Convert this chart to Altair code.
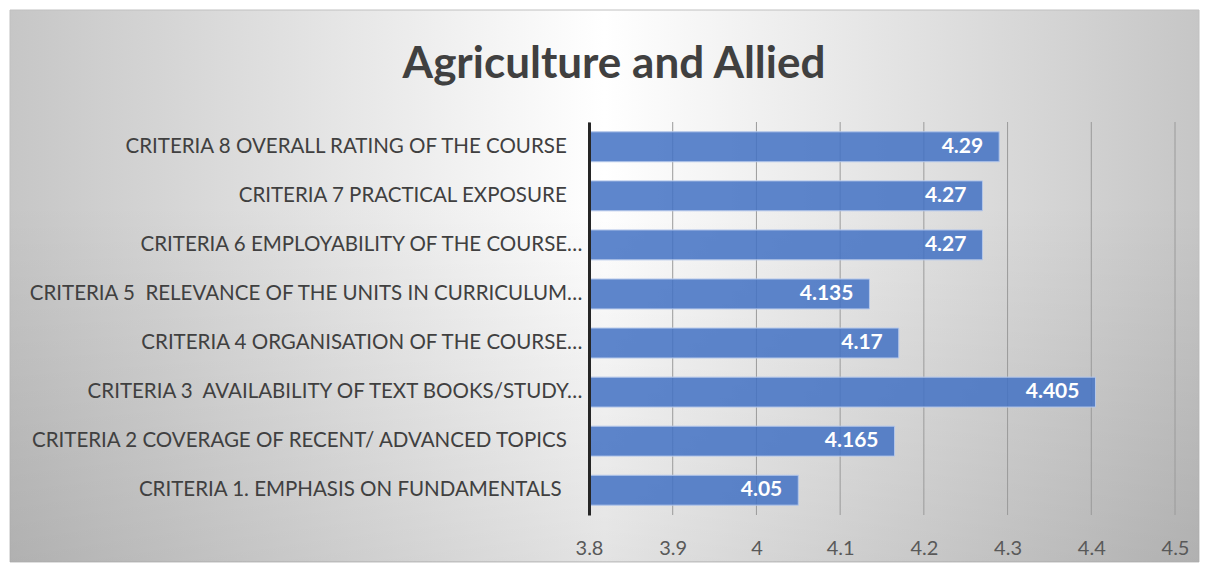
import altair as alt
import pandas as pd

categories = [
    "CRITERIA 8 OVERALL RATING OF THE COURSE\u00a0\u00a0\u00a0\u200b",
    "CRITERIA 7 PRACTICAL EXPOSURE\u00a0\u00a0\u00a0\u200b",
    "CRITERIA 6 EMPLOYABILITY OF THE COURSE\u2026",
    "CRITERIA 5 \u00a0RELEVANCE OF THE UNITS IN CURRICULUM\u2026",
    "CRITERIA 4 ORGANISATION OF THE COURSE\u2026",
    "CRITERIA 3 \u00a0AVAILABILITY OF TEXT BOOKS/STUDY\u2026",
    "CRITERIA 2 COVERAGE OF RECENT/ ADVANCED TOPICS\u00a0\u00a0\u00a0\u200b",
    "CRITERIA 1. EMPHASIS ON FUNDAMENTALS\u00a0\u00a0\u00a0\u00a0\u200b",
]
values = [4.29, 4.27, 4.27, 4.135, 4.17, 4.405, 4.165, 4.05]
value_labels = ["4.29", "4.27", "4.27", "4.135", "4.17", "4.405", "4.165", "4.05"]
tick_values = [3.8, 3.9, 4.0, 4.1, 4.2, 4.3, 4.4, 4.5]

df = pd.DataFrame({"cat": categories, "val": values, "lab": value_labels})
grid_df = pd.DataFrame({"t": tick_values})
bg_df = pd.DataFrame({"a": [0]})

FONT = "Lato"
W, H = 586, 393
PL, PT = 581, 114
TOTAL_W, TOTAL_H = 1192, 555

xscale = alt.Scale(domain=[3.8, 4.5], nice=False, zero=False)
yscale = alt.Scale(paddingInner=0.39, paddingOuter=0.2)

rx1, rx2 = -PL + 2, TOTAL_W - PL - 1
ry1, ry2 = -PT + 2, TOTAL_H - PT - 1

bg_h = alt.Chart(bg_df).mark_rect(
    fill={
        "gradient": "linear", "x1": 0, "y1": 0, "x2": 1, "y2": 0,
        "stops": [
            {"offset": 0, "color": "#c6c6c6"},
            {"offset": 0.5, "color": "#ffffff"},
            {"offset": 1, "color": "#c6c6c6"},
        ],
    },
    stroke="#c0c0c0", strokeWidth=1,
).encode(x=alt.value(rx1), x2=alt.value(rx2), y=alt.value(ry1), y2=alt.value(ry2))

bg_v = alt.Chart(bg_df).mark_rect(
    fill={
        "gradient": "linear", "x1": 0, "y1": 0, "x2": 0, "y2": 1,
        "stops": [
            {"offset": 0, "color": "rgba(0,0,0,0)"},
            {"offset": 0.35, "color": "rgba(0,0,0,0)"},
            {"offset": 1, "color": "rgba(0,0,0,0.11)"},
        ],
    },
).encode(x=alt.value(rx1), x2=alt.value(rx2), y=alt.value(ry1), y2=alt.value(ry2))

grid = alt.Chart(grid_df).mark_rule(color="#9a9a9a", strokeWidth=1).encode(
    x=alt.X("t:Q", scale=xscale)
)

base = alt.Chart(df).encode(
    y=alt.Y("cat:N", sort=categories, scale=yscale, title=None,
            axis=alt.Axis(labelFont=FONT, labelFontSize=20.5, labelColor="#404040",
                          labelPadding=7, ticks=False, domainColor="#262626",
                          domainWidth=3, labelLimit=0, zindex=1)),
)

bars = base.mark_bar(
    fill="#4472C4", fillOpacity=0.86, stroke="#b4c7ea", strokeWidth=1
).encode(
    x=alt.X("val:Q", scale=xscale, title=None,
            axis=alt.Axis(values=tick_values, grid=False, domain=False, ticks=False,
                          labelFont=FONT, labelFontSize=20, labelColor="#595959",
                          labelPadding=23, labelFlush=False, format="~g", zindex=1)),
    x2=alt.datum(3.8),
)

texts = base.mark_text(
    align="right", dx=-16, font=FONT, fontSize=21, fontWeight="bold", color="white"
).encode(x=alt.X("val:Q", scale=xscale), text="lab:N")

chart = alt.layer(bg_h, bg_v, grid, bars, texts).properties(
    width=W, height=H,
    autosize=alt.AutoSizeParams(type="none"),
    padding={"left": PL, "top": PT, "right": TOTAL_W - PL - W, "bottom": TOTAL_H - PT - H},
    title=alt.TitleParams(
        "Agriculture and Allied", font=FONT, fontSize=44, fontWeight="bold",
        color="#404040", anchor="middle", frame="group", dx=-268, offset=0, dy=77,
    ),
).configure_view(stroke=None).configure(background="white")

chart.save("out.html", embed_options={"renderer": "svg", "actions": False})
